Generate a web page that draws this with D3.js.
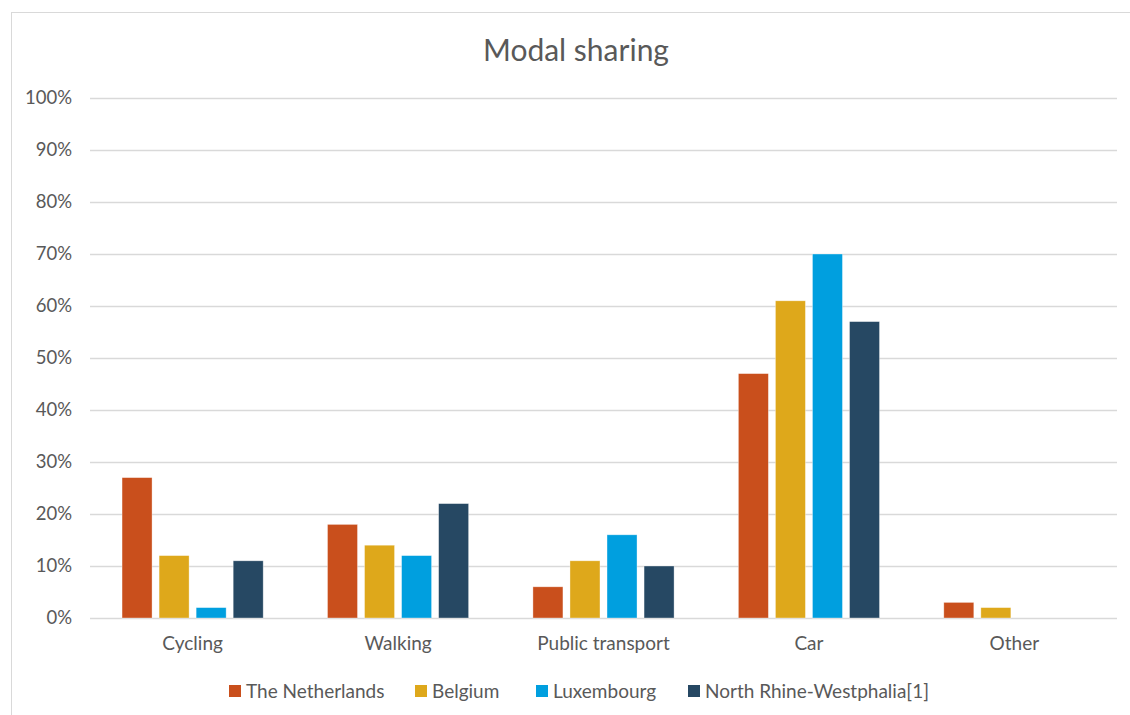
<!DOCTYPE html>
<html>
<head>
<meta charset="utf-8">
<script src="https://cdn.jsdelivr.net/npm/d3@7"></script>
<style>
  body { margin: 0; background: #fff; }
  svg text { font-family: Lato, "Open Sans", sans-serif; fill: #595959; }
</style>
</head>
<body>
<script>
const svgWidth = 1130;
const svgHeight = 715;

const categories = ['Cycling', 'Walking', 'Public transport', 'Car', 'Other'];
const seriesNames = ['The Netherlands', 'Belgium', 'Luxembourg', 'North Rhine-Westphalia[1]'];
const netherlands = [27, 18, 6, 47, 3];
const belgium = [12, 14, 11, 61, 2];
const luxembourg = [2, 12, 16, 70, 0];
const nrw = [11, 22, 10, 57, 0];
const yTicks = [0, 10, 20, 30, 40, 50, 60, 70, 80, 90, 100];

const seriesValues = [netherlands, belgium, luxembourg, nrw];
const colors = ['#c94f1c', '#dea81b', '#009fdf', '#264863'];

const margin = {top: 98, left: 90, right: 13, bottom: 97};

const svg = d3.select('body')
              .append('svg')
              .attr('width', svgWidth)
              .attr('height', svgHeight);

// chart border (right/bottom run off the page)
svg.append('rect')
   .attr('x', 11.5).attr('y', 12.5)
   .attr('width', svgWidth).attr('height', svgHeight)
   .attr('fill', 'none')
   .attr('stroke', '#d9d9d9');

svg.append('text')
   .attr('x', 576).attr('y', 61)
   .attr('text-anchor', 'middle')
   .style('font-size', '30px')
   .text('Modal sharing');

const x0 = d3.scaleBand()
             .domain(categories)
             .range([margin.left, svgWidth - margin.right])
             .paddingInner(0.313)
             .paddingOuter(0.156);

const x1 = d3.scaleBand()
             .domain(seriesNames)
             .range([0, x0.bandwidth()])
             .paddingInner(0.19);

const y = d3.scaleLinear()
            .domain([0, 100])
            .range([svgHeight - margin.bottom, margin.top]);

// gridlines
svg.append('g')
   .selectAll('line')
   .data(yTicks)
   .enter()
   .append('line')
   .attr('x1', margin.left).attr('x2', svgWidth - margin.right)
   .attr('y1', d => Math.round(y(d)) + 0.5)
   .attr('y2', d => Math.round(y(d)) + 0.5)
   .attr('stroke', '#d9d9d9')
   .attr('stroke-width', 1.3);

const yAxis = svg.append('g')
                 .attr('transform', `translate(${margin.left - 15},0)`)
                 .call(d3.axisLeft(y).tickValues(yTicks).tickSize(0).tickFormat(d => d + '%'));
yAxis.select('.domain').remove();
yAxis.selectAll('text')
     .attr('fill', '#595959')
     .style('font-family', 'Lato, sans-serif')
     .style('font-size', '18.5px');

const xAxis = svg.append('g')
                 .attr('transform', `translate(0,${y(0)})`)
                 .call(d3.axisBottom(x0).tickSize(0).tickPadding(19));
xAxis.select('.domain').remove();
xAxis.selectAll('text')
     .attr('fill', '#595959')
     .style('font-family', 'Lato, sans-serif')
     .style('font-size', '19px');

// bars
const groups = svg.append('g')
                  .selectAll('g')
                  .data(categories)
                  .enter()
                  .append('g')
                  .attr('transform', d => `translate(${x0(d)},0)`);

groups.selectAll('rect')
      .data((c, i) => seriesNames.map((s, j) => ({series: s, value: seriesValues[j][i], color: colors[j]})))
      .enter()
      .append('rect')
      .filter(d => d.value > 0)
      .attr('x', d => x1(d.series))
      .attr('y', d => y(d.value))
      .attr('width', x1.bandwidth())
      .attr('height', d => y(0) - y(d.value))
      .attr('fill', d => d.color)
      .attr('stroke', 'rgba(255,255,255,0.5)')
      .attr('stroke-width', 0.7);

// legend
const legendItems = [
  {name: seriesNames[0], x: 229},
  {name: seriesNames[1], x: 415},
  {name: seriesNames[2], x: 536},
  {name: seriesNames[3], x: 688}
];
const legend = svg.append('g')
                  .selectAll('g')
                  .data(legendItems)
                  .enter()
                  .append('g')
                  .attr('transform', d => `translate(${d.x},685)`);
legend.append('rect')
      .attr('width', 12).attr('height', 12)
      .attr('fill', (d, i) => colors[i]);
legend.append('text')
      .attr('x', 17).attr('y', 13)
      .style('font-size', '19px')
      .text(d => d.name);
</script>
</body>
</html>
